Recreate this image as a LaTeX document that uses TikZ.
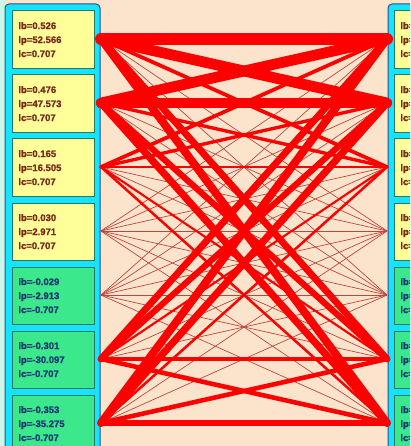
\documentclass[tikz,border=0pt]{standalone}
\usepackage{fontspec}
\setmainfont{Liberation Sans}
\newfontfamily\boxfont{Liberation Sans}[BoldFeatures={FakeBold=1.2}]
\definecolor{mint}{RGB}{204,246,232}
\definecolor{peach}{RGB}{252,228,204}
\definecolor{panelcyan}{RGB}{20,228,255}
\definecolor{panelborder}{RGB}{40,80,140}
\definecolor{boxyellow}{RGB}{255,255,153}
\definecolor{boxgreen}{RGB}{60,232,140}
\definecolor{boxborder}{RGB}{40,120,100}
\definecolor{txtbrown}{RGB}{122,40,24}
\definecolor{txtblue}{RGB}{28,56,118}
\definecolor{thinline}{RGB}{190,70,60}
\tikzset{
  panel/.style={fill=panelcyan,draw=panelborder,line width=1pt,rounded corners=4pt},
  valbox/.style={draw=boxborder,line width=0.8pt,anchor=north west,minimum height=57.5pt,
     text width=70pt,inner xsep=6pt,inner ysep=0pt,align=left,
     font=\boxfont\fontsize{9.5}{14}\selectfont\bfseries},
  posbox/.style={valbox,fill=boxyellow,text=txtbrown},
  negbox/.style={valbox,fill=boxgreen,text=txtblue},
  weakline/.style={draw=thinline,line width=0.7pt},
  strongline/.style={draw=red,line cap=round}
}
\begin{document}
\begin{tikzpicture}[x=1pt,y=-1pt]
\useasboundingbox (0,0) rectangle (410,446);
\clip (0,0) rectangle (410,446);
\fill[peach] (0,0) rectangle (410,446);
\fill[mint] (0,0) rectangle (5,446);
\path[panel] (5,4) rectangle (100,470);
\path[panel] (388,4) rectangle (520,470);
% boxes
\foreach \k/\b/\p/\c/\s in {1/0.526/52.566/0.707/posbox,2/0.476/47.573/0.707/posbox,3/0.165/16.505/0.707/posbox,4/0.030/2.971/0.707/posbox,5/-0.029/-2.913/-0.707/negbox,6/-0.301/-30.097/-0.707/negbox,7/-0.353/-35.275/-0.707/negbox}{
  \node[\s] (LB\k) at (12,{10.5+64*(\k-1)}) {lb=\b\\lp=\p\\lc=\c};
  \node[\s] (RB\k) at (394,{10.5+64*(\k-1)}) {lb=\b\\lp=\p\\lc=\c};
  \coordinate (L\k) at (101,{39+64*(\k-1)});
  \coordinate (R\k) at (387,{39+64*(\k-1)});
}
% thin connectors
\foreach \i/\a in {1/0.526,2/0.476,3/0.165,4/0.030,5/-0.029,6/-0.301,7/-0.353}{
  \foreach \j/\b in {1/0.526,2/0.476,3/0.165,4/0.030,5/-0.029,6/-0.301,7/-0.353}{
    \pgfmathsetmacro\w{43*abs(\a*\b)}
    \ifdim\w pt<1pt
      \draw[weakline] (L\i) -- (R\j);
    \fi
  }
}
% strong connectors
\foreach \i/\a in {1/0.526,2/0.476,3/0.165,4/0.030,5/-0.029,6/-0.301,7/-0.353}{
  \foreach \j/\b in {1/0.526,2/0.476,3/0.165,4/0.030,5/-0.029,6/-0.301,7/-0.353}{
    \pgfmathsetmacro\w{43*abs(\a*\b)}
    \ifdim\w pt<1pt\else
      \draw[strongline,line width=\w pt] (L\i) -- (R\j);
    \fi
  }
}
\end{tikzpicture}
\end{document}
